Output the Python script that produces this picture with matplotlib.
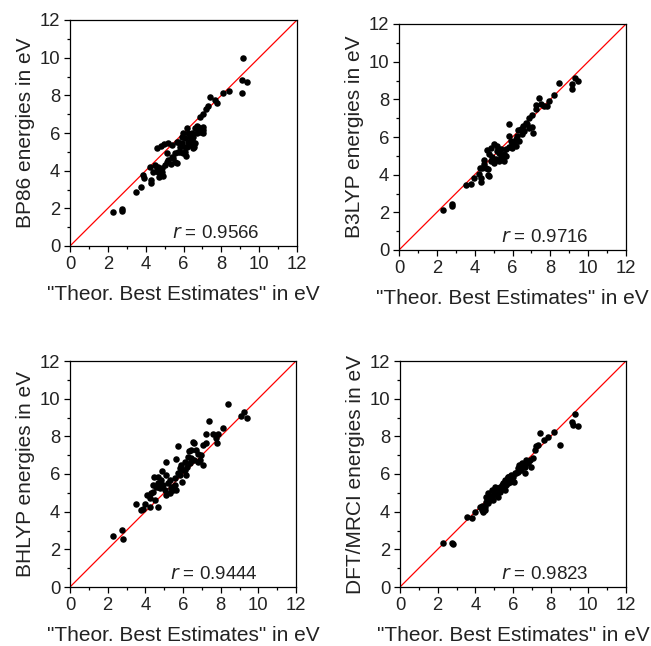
import matplotlib as mpl
mpl.use('Agg')
import matplotlib.pyplot as plt
from matplotlib.ticker import MultipleLocator

plt.rcParams['font.family'] = ['Liberation Sans', 'DejaVu Sans']

## values (eV)
bp86_x = [2.29, 2.75, 2.75, 3.49, 3.77, 3.93, 3.88, 4.29, 4.29, 4.23, 4.50, 4.58, 4.67, 4.80, 4.88,
          4.62, 4.80, 4.97, 5.20, 5.38, 5.11, 5.20, 5.33, 5.38, 5.55, 5.64, 5.73, 5.82, 5.91, 6.14,
          6.08, 6.21, 6.26, 6.35, 6.44, 6.58, 6.61, 6.70, 6.82, 6.97, 7.05, 6.17, 6.26, 5.99, 5.91,
          5.73, 5.64, 6.88, 7.02, 7.20, 7.32, 7.41, 7.67, 7.76, 8.11, 8.38, 9.08, 9.08, 9.38, 9.17,
          4.67, 4.85, 5.03, 4.73, 4.90, 4.41, 5.11, 5.47, 5.55, 5.99, 5.82, 6.08, 6.44, 6.52, 6.70,
          6.88, 6.79, 7.05, 7.05, 6.08, 6.35, 6.61, 6.52]
bp86_y = [1.82, 1.94, 1.86, 2.85, 3.15, 3.59, 3.77, 3.50, 3.33, 4.22, 4.30, 4.12, 3.95, 3.82, 3.95,
          5.18, 5.30, 5.41, 5.48, 5.36, 4.92, 4.57, 4.35, 4.74, 4.92, 4.39, 5.01, 5.27, 5.45, 4.77,
          5.01, 5.27, 5.54, 5.80, 6.01, 5.24, 6.24, 6.37, 6.16, 6.07, 6.16, 6.24, 5.98, 5.98, 5.77,
          5.54, 5.54, 6.83, 7.00, 7.25, 7.43, 7.89, 7.75, 7.58, 8.14, 8.25, 8.14, 8.82, 8.73, 9.97,
          4.21, 4.12, 4.30, 3.68, 3.72, 3.95, 4.48, 4.65, 4.48, 4.92, 5.00, 5.72, 5.63, 5.80, 5.98,
          6.07, 6.33, 6.33, 5.98, 5.27, 5.36, 5.48, 5.20]

b3lyp_x = [2.33, 2.82, 2.79, 3.53, 3.79, 3.97, 4.32, 4.27, 4.50, 4.59, 4.71, 4.73, 4.50, 4.67, 4.85,
           5.03, 5.20, 4.85, 4.94, 5.03, 5.11, 5.29, 5.38, 5.47, 5.55, 5.64, 5.38, 5.82, 5.82, 5.82,
           5.99, 6.08, 6.17, 6.26, 6.31, 6.44, 6.52, 6.61, 6.70, 6.79, 6.88, 7.02, 7.11, 6.35, 6.17,
           5.99, 5.64, 5.20, 4.76, 4.41, 4.23, 7.23, 7.41, 7.23, 7.50, 7.67, 7.85, 7.94, 8.20, 8.47,
           9.14, 9.17, 9.31, 9.47, 5.55, 5.29, 5.91, 6.55, 6.88, 7.05, 4.76, 4.32]
b3lyp_y = [2.14, 2.46, 2.32, 3.43, 3.48, 3.84, 3.63, 4.34, 4.55, 4.37, 4.29, 3.96, 4.76, 5.29, 5.44,
           5.61, 5.52, 4.73, 4.94, 4.64, 4.82, 4.73, 5.00, 4.91, 5.08, 5.35, 5.35, 6.71, 6.05, 5.47,
           5.61, 5.70, 5.88, 6.05, 6.36, 6.41, 6.14, 6.32, 6.76, 6.67, 6.49, 6.53, 6.23, 5.79, 5.52,
           5.44, 5.00, 5.26, 5.08, 4.37, 4.02, 7.47, 8.05, 7.70, 7.73, 7.64, 7.64, 7.90, 8.22, 8.85,
           8.53, 8.83, 9.11, 8.98, 4.73, 5.17, 5.79, 6.58, 7.00, 7.17, 3.92, 3.84]

bhlyp_x = [2.29, 2.75, 2.79, 3.49, 3.79, 3.97, 3.88, 4.23, 4.32, 4.27, 4.50, 4.67, 4.47, 4.59, 4.67,
           4.76, 4.85, 4.94, 5.08, 4.90, 5.11, 5.20, 5.29, 5.38, 5.47, 5.11, 5.55, 5.64, 5.75, 5.73,
           5.82, 5.91, 5.99, 6.08, 6.17, 6.26, 6.31, 6.44, 6.52, 6.61, 6.70, 6.79, 6.88, 6.97, 7.05,
           7.05, 7.23, 7.23, 7.37, 7.58, 7.76, 7.85, 7.80, 8.11, 8.38, 9.08, 9.26, 9.38, 4.67, 4.76,
           5.03, 5.29, 5.43, 5.61, 5.55, 5.82, 6.08, 6.20, 6.35, 6.61, 6.79, 6.44, 4.67, 4.41, 4.09,
           4.41, 5.96]
bhlyp_y = [2.71, 3.03, 2.54, 4.39, 4.09, 4.40, 4.12, 4.71, 5.01, 4.27, 4.62, 4.27, 5.82, 5.33, 5.50,
           5.24, 5.68, 5.42, 6.65, 6.18, 5.95, 5.50, 5.68, 5.24, 5.15, 4.90, 5.42, 6.77, 7.49, 6.03,
           6.30, 6.47, 6.21, 6.65, 5.95, 6.92, 7.24, 6.83, 7.72, 7.63, 7.28, 7.06, 6.74, 7.01, 6.47,
           7.54, 7.63, 8.12, 8.83, 8.12, 7.89, 8.12, 7.67, 8.43, 9.72, 9.08, 9.30, 8.95, 5.33, 5.50,
           5.15, 4.97, 5.33, 5.15, 5.77, 5.95, 6.21, 6.39, 6.56, 6.74, 6.65, 7.28, 5.85, 5.42, 4.88,
           5.06, 5.59]

mrci_x = [2.30, 2.83, 2.78, 3.54, 3.80, 3.98, 4.24, 4.42, 4.33, 4.51, 4.59, 4.68, 4.77, 4.86, 4.95,
          5.03, 5.18, 5.30, 5.21, 5.39, 5.48, 5.60, 5.71, 5.74, 5.92, 6.06, 6.18, 6.27, 6.30, 6.45,
          6.53, 6.62, 6.71, 6.80, 6.94, 6.89, 7.06, 7.19, 7.24, 7.33, 7.42, 7.65, 7.86, 8.17, 8.47,
          9.27, 9.13, 9.18, 9.44, 4.59, 4.68, 4.77, 4.86, 5.03, 5.12, 4.95, 5.30, 5.48, 5.65, 5.83,
          6.00, 6.13, 6.24, 6.36, 6.48, 6.62, 6.76, 4.42, 4.51, 4.33, 5.21, 5.56, 5.74, 5.92]
mrci_y = [2.35, 2.26, 2.35, 3.73, 3.65, 4.00, 4.27, 4.00, 4.30, 4.27, 4.53, 4.97, 4.80, 5.15, 4.88,
          5.33, 5.24, 5.06, 4.80, 5.42, 5.24, 5.15, 5.82, 5.50, 5.68, 5.59, 6.03, 6.30, 6.47, 6.21,
          6.42, 6.03, 6.74, 6.56, 6.35, 6.74, 6.83, 7.27, 7.49, 7.54, 8.16, 7.80, 7.94, 8.25, 7.54,
          9.19, 8.78, 8.60, 8.55, 4.80, 4.44, 4.62, 4.71, 4.97, 5.06, 4.62, 5.33, 5.50, 5.42, 5.59,
          5.86, 6.03, 6.12, 6.39, 6.56, 6.39, 6.65, 4.27, 4.09, 4.09, 5.06, 5.68, 5.86, 5.95]

panels = [
    (bp86_x, bp86_y, 'BP86 energies in eV', '0.9566', [70, 20, 297, 246]),
    (b3lyp_x, b3lyp_y, 'B3LYP energies in eV', '0.9716', [399, 24, 626, 250]),
    (bhlyp_x, bhlyp_y, 'BHLYP energies in eV', '0.9444', [70, 361, 296, 587]),
    (mrci_x, mrci_y, 'DFT/MRCI energies in eV', '0.9823', [400, 361, 626, 587]),
]

txt = '#222222'
W, H = 651, 646
fig = plt.figure(figsize=(W/100., H/100.), dpi=100)

for xs, ys, ylab, r, box in panels:
    l, t, rr, b = box
    ax = fig.add_axes([l/W, 1-b/H, (rr-l)/W, (b-t)/H])
    ax.plot([0, 12], [0, 12], color='red', lw=0.9, zorder=1)
    ax.scatter(xs, ys, s=22, color='black', zorder=2, linewidths=0)
    ax.set_xlim(0, 12)
    ax.set_ylim(0, 12)
    ax.xaxis.set_major_locator(MultipleLocator(2))
    ax.yaxis.set_major_locator(MultipleLocator(2))
    ax.xaxis.set_minor_locator(MultipleLocator(1))
    ax.yaxis.set_minor_locator(MultipleLocator(1))
    ax.tick_params(which='both', direction='out', top=False, right=False, labelsize=13.3,
                   width=0.9, labelcolor=txt)
    ax.tick_params(which='major', length=4, pad=3)
    ax.tick_params(which='minor', length=2.5)
    for sp in ax.spines.values():
        sp.set_linewidth(0.9)
    ax.set_xlabel('"Theor. Best Estimates" in eV', fontsize=15, labelpad=9, color=txt)
    ax.set_ylabel(ylab, fontsize=15, labelpad=3, color=txt)
    ax.text(10.0, 0.69, '$r$ = ' + r, fontsize=13.5, ha='right', va='center', color=txt)

plt.savefig('out.png', dpi=100)
